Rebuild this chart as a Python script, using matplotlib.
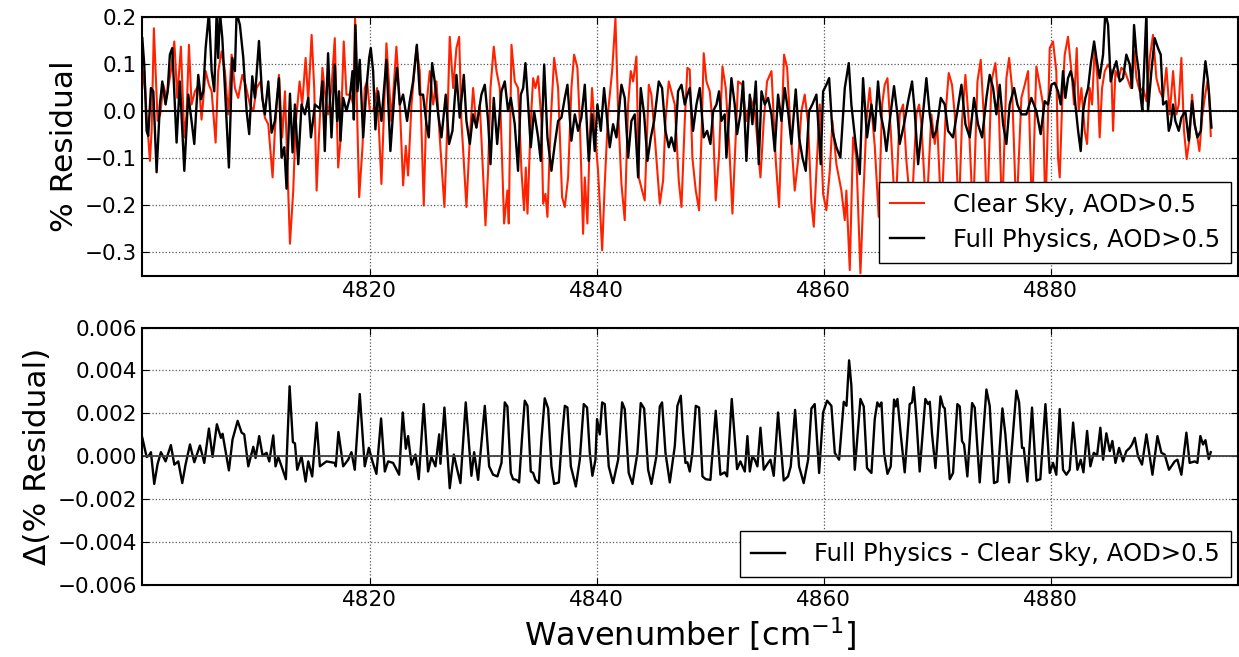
import numpy as np
import matplotlib
matplotlib.use('Agg')
import matplotlib.pyplot as plt

# Residual spectra (wavenumber, % residual)
clear_sky = [
    (4799.95, 0.049), (4800.12, 0.085), (4800.33, -0.007), (4800.62, -0.106), (4800.77, -0.042),
    (4800.97, 0.176), (4801.12, 0.085), (4801.30, -0.021), (4801.53, -0.007), (4801.80, 0.056),
    (4802.09, 0.028), (4802.47, 0.085), (4802.77, 0.148), (4803.03, 0.028), (4803.35, 0.137),
    (4803.65, -0.056), (4803.85, -0.007), (4804.06, 0.141), (4804.29, 0.014), (4804.59, 0.042),
    (4804.94, 0.056), (4805.17, -0.018), (4805.53, 0.085), (4805.82, 0.056), (4806.06, 0.042),
    (4806.41, -0.067), (4806.64, 0.085), (4806.94, 0.127), (4807.23, 0.085), (4807.52, -0.007),
    (4807.82, 0.120), (4808.11, 0.049), (4808.40, 0.028), (4808.76, 0.077), (4809.05, 0.056),
    (4809.43, 0.014), (4809.73, 0.000), (4810.02, 0.049), (4810.37, 0.063), (4810.75, -0.014),
    (4811.05, -0.028), (4811.43, -0.141), (4811.63, -0.042), (4811.99, 0.077), (4812.28, -0.056),
    (4812.52, 0.042), (4812.96, -0.282), (4813.25, -0.169), (4813.46, -0.028), (4813.81, 0.063),
    (4814.04, 0.014), (4814.34, 0.113), (4814.57, 0.021), (4814.87, 0.162), (4815.10, 0.049),
    (4815.31, -0.169), (4815.51, -0.056), (4815.82, 0.092), (4816.03, 0.042), (4816.32, -0.007),
    (4816.62, 0.049), (4816.91, 0.155), (4817.21, -0.120), (4817.41, -0.063), (4817.70, 0.148),
    (4817.94, 0.035), (4818.29, 0.035), (4818.53, 0.014), (4818.70, 0.197), (4818.88, -0.007),
    (4819.06, -0.183), (4819.35, -0.077), (4819.55, 0.049), (4819.76, 0.063), (4820.00, 0.000),
    (4820.29, 0.000), (4820.64, 0.049), (4821.02, -0.155), (4821.46, 0.144), (4821.90, -0.021),
    (4822.34, 0.137), (4822.64, 0.014), (4822.93, -0.158), (4823.17, -0.074), (4823.37, -0.137),
    (4823.67, 0.014), (4824.11, 0.137), (4824.40, 0.085), (4824.75, -0.201), (4824.99, 0.014),
    (4825.28, 0.085), (4825.58, 0.014), (4825.87, 0.063), (4826.16, -0.056), (4826.57, -0.204),
    (4826.81, -0.042), (4827.04, 0.158), (4827.34, 0.049), (4827.63, 0.134), (4827.87, 0.158),
    (4828.07, -0.021), (4828.51, -0.204), (4828.81, -0.056), (4829.10, 0.049), (4829.39, -0.035),
    (4829.69, 0.014), (4830.19, -0.243), (4830.42, -0.127), (4830.63, 0.049), (4830.92, 0.137),
    (4831.16, 0.085), (4831.45, 0.049), (4831.83, -0.239), (4832.12, -0.169), (4832.24, -0.239),
    (4832.48, 0.141), (4832.77, 0.063), (4833.06, 0.049), (4833.36, -0.127), (4833.59, -0.211),
    (4833.74, -0.120), (4833.89, -0.218), (4834.18, -0.021), (4834.39, 0.070), (4834.59, 0.049),
    (4834.83, 0.074), (4835.12, -0.021), (4835.27, -0.197), (4835.47, -0.176), (4835.65, -0.225),
    (4835.94, -0.021), (4836.24, 0.113), (4836.59, 0.049), (4836.94, -0.183), (4837.18, -0.204),
    (4837.47, -0.141), (4837.76, 0.049), (4838.00, 0.120), (4838.29, 0.092), (4838.50, -0.021),
    (4838.79, -0.261), (4838.94, -0.141), (4839.17, -0.239), (4839.38, -0.056), (4839.58, 0.049),
    (4839.82, -0.042), (4840.11, -0.127), (4840.47, -0.296), (4840.70, -0.155), (4841.00, 0.000),
    (4841.35, 0.085), (4841.64, 0.197), (4841.88, 0.000), (4842.17, -0.155), (4842.46, -0.232),
    (4842.76, 0.014), (4842.99, 0.085), (4843.20, 0.063), (4843.49, 0.116), (4843.70, -0.141),
    (4843.99, -0.169), (4844.22, -0.190), (4844.58, 0.056), (4844.81, 0.035), (4845.11, -0.056),
    (4845.55, -0.197), (4845.84, -0.148), (4846.05, -0.021), (4846.34, 0.063), (4846.57, 0.042),
    (4846.87, 0.014), (4847.22, -0.148), (4847.46, -0.204), (4847.75, -0.021), (4847.98, 0.092),
    (4848.19, 0.088), (4848.42, -0.099), (4848.72, -0.169), (4849.01, -0.211), (4849.22, -0.056),
    (4849.42, 0.123), (4849.66, 0.063), (4849.95, 0.042), (4850.25, -0.035), (4850.48, -0.190),
    (4850.77, -0.092), (4851.07, 0.095), (4851.36, 0.049), (4851.66, -0.070), (4851.95, -0.218),
    (4852.24, -0.056), (4852.45, 0.063), (4852.83, 0.056), (4853.18, -0.021), (4853.54, 0.028),
    (4853.92, 0.000), (4854.42, -0.141), (4854.71, -0.021), (4855.00, 0.063), (4855.39, 0.085),
    (4855.77, -0.106), (4856.06, -0.204), (4856.30, -0.021), (4856.50, 0.120), (4856.77, 0.092),
    (4857.06, -0.035), (4857.44, -0.169), (4857.73, -0.106), (4858.03, 0.000), (4858.32, 0.035),
    (4858.62, -0.028), (4858.91, -0.197), (4859.12, -0.246), (4859.35, -0.127), (4859.65, 0.014),
    (4859.94, -0.176), (4860.23, -0.211), (4860.53, -0.127), (4860.76, -0.021), (4861.11, -0.113),
    (4861.55, -0.169), (4861.85, -0.232), (4861.99, -0.169), (4862.29, -0.338), (4862.58, -0.056),
    (4862.87, -0.099), (4863.23, -0.345), (4863.46, -0.197), (4863.76, -0.021), (4864.05, 0.049),
    (4864.49, -0.074), (4864.84, -0.225), (4865.14, 0.014), (4865.37, 0.056), (4865.61, 0.070),
    (4865.90, -0.042), (4866.31, -0.225), (4866.69, -0.007), (4866.99, 0.014), (4867.28, -0.106),
    (4867.72, -0.225), (4868.16, -0.007), (4868.40, 0.014), (4868.60, -0.028), (4869.04, -0.225),
    (4869.48, -0.007), (4869.78, -0.070), (4869.98, -0.021), (4870.36, -0.225), (4870.75, 0.000),
    (4871.01, 0.081), (4871.30, 0.056), (4871.54, -0.007), (4871.89, -0.225), (4872.18, -0.021),
    (4872.48, 0.077), (4872.77, -0.021), (4873.15, -0.225), (4873.54, 0.063), (4873.83, 0.109),
    (4874.12, -0.021), (4874.39, -0.225), (4874.77, 0.063), (4875.12, 0.102), (4875.41, 0.014),
    (4875.71, -0.225), (4876.09, 0.070), (4876.33, 0.113), (4876.59, 0.049), (4876.97, -0.225),
    (4877.41, 0.028), (4877.71, 0.056), (4878.00, 0.085), (4878.35, -0.225), (4878.73, 0.095),
    (4879.03, 0.056), (4879.32, 0.014), (4879.53, -0.225), (4879.91, 0.134), (4880.20, 0.148),
    (4880.49, 0.085), (4880.64, -0.099), (4880.79, -0.141), (4881.00, 0.014), (4881.23, 0.120),
    (4881.52, 0.158), (4881.82, 0.085), (4882.05, 0.014), (4882.29, 0.134), (4882.46, 0.000),
    (4882.70, 0.049), (4882.99, -0.042), (4883.20, -0.070), (4883.43, 0.049), (4883.64, 0.014),
    (4883.87, 0.134), (4884.11, 0.070), (4884.31, -0.056), (4884.52, 0.049), (4884.76, 0.085),
    (4885.05, 0.099), (4885.34, 0.085), (4885.49, -0.042), (4885.70, 0.085), (4885.99, 0.070),
    (4886.22, 0.092), (4886.52, 0.085), (4886.75, 0.070), (4887.05, 0.049), (4887.34, 0.127),
    (4887.55, 0.070), (4887.84, 0.042), (4888.13, 0.049), (4888.43, 0.021), (4888.72, 0.113),
    (4889.01, 0.162), (4889.31, 0.070), (4889.60, 0.042), (4889.90, 0.028), (4890.19, 0.092),
    (4890.48, -0.007), (4890.78, 0.085), (4891.07, -0.007), (4891.28, 0.014), (4891.51, 0.113),
    (4891.74, -0.042), (4891.98, -0.102), (4892.24, -0.056), (4892.45, 0.035), (4892.68, -0.028),
    (4892.92, -0.056), (4893.10, -0.085), (4893.33, -0.014), (4893.57, 0.028), (4893.80, 0.063),
    (4893.95, 0.042), (4894.10, -0.053),
]

full_physics = [
    (4799.95, 0.155), (4800.12, 0.099), (4800.33, -0.042), (4800.47, -0.053), (4800.71, 0.049),
    (4800.92, 0.042), (4801.21, -0.130), (4801.50, 0.014), (4801.71, 0.063), (4802.00, 0.014),
    (4802.18, 0.042), (4802.38, 0.120), (4802.59, 0.134), (4802.97, -0.067), (4803.26, 0.063),
    (4803.65, -0.127), (4804.00, 0.035), (4804.29, -0.021), (4804.53, -0.070), (4804.88, 0.077),
    (4805.12, 0.025), (4805.32, 0.042), (4805.53, 0.134), (4805.82, 0.210), (4806.06, 0.085),
    (4806.29, 0.042), (4806.50, 0.210), (4806.64, 0.113), (4806.79, 0.210), (4807.00, 0.155),
    (4807.23, 0.049), (4807.58, -0.120), (4807.88, 0.113), (4808.11, 0.085), (4808.26, 0.210),
    (4808.55, 0.183), (4808.85, 0.113), (4809.14, 0.000), (4809.37, -0.049), (4809.64, 0.074),
    (4809.87, 0.028), (4810.23, 0.149), (4810.52, 0.028), (4810.75, -0.007), (4811.05, 0.063),
    (4811.34, -0.046), (4811.63, -0.021), (4811.99, 0.070), (4812.22, -0.099), (4812.46, -0.077),
    (4812.66, -0.165), (4812.96, 0.037), (4813.19, -0.088), (4813.40, 0.014), (4813.69, -0.113),
    (4813.98, 0.014), (4814.28, -0.007), (4814.57, 0.028), (4814.81, -0.056), (4815.16, 0.014),
    (4815.59, 0.005), (4815.82, 0.063), (4816.03, -0.085), (4816.32, 0.123), (4816.62, -0.056),
    (4816.91, 0.099), (4817.12, -0.021), (4817.29, 0.042), (4817.41, -0.063), (4817.65, 0.028),
    (4817.94, 0.000), (4818.23, 0.028), (4818.47, 0.085), (4818.59, -0.018), (4818.73, 0.183),
    (4818.91, 0.042), (4819.11, 0.109), (4819.41, -0.056), (4819.70, 0.049), (4819.94, 0.113),
    (4820.08, 0.134), (4820.29, 0.085), (4820.49, -0.039), (4820.73, 0.042), (4821.02, -0.021),
    (4821.46, 0.109), (4821.81, -0.085), (4822.20, 0.049), (4822.40, 0.092), (4822.64, 0.014),
    (4822.93, 0.035), (4823.28, -0.021), (4823.52, 0.021), (4823.81, 0.063), (4824.14, 0.141),
    (4824.40, 0.035), (4824.69, 0.035), (4824.99, -0.028), (4825.19, -0.056), (4825.49, 0.102),
    (4825.72, 0.063), (4826.02, -0.007), (4826.31, -0.056), (4826.69, 0.035), (4826.98, -0.070),
    (4827.28, -0.042), (4827.63, 0.077), (4827.92, -0.014), (4828.28, 0.077), (4828.51, -0.021),
    (4828.81, -0.070), (4829.10, -0.007), (4829.39, -0.035), (4829.83, 0.035), (4830.13, 0.056),
    (4830.42, -0.021), (4830.63, -0.113), (4830.92, 0.028), (4831.22, -0.070), (4831.60, 0.042),
    (4831.89, 0.063), (4832.18, 0.000), (4832.42, 0.028), (4832.77, -0.028), (4833.06, -0.127),
    (4833.30, 0.035), (4833.51, 0.049), (4833.71, 0.102), (4833.95, 0.014), (4834.18, -0.077),
    (4834.47, 0.000), (4834.83, -0.056), (4835.06, -0.106), (4835.36, 0.099), (4835.65, -0.056),
    (4836.00, -0.127), (4836.30, -0.070), (4836.59, -0.021), (4836.88, -0.014), (4837.18, 0.028),
    (4837.41, 0.056), (4837.76, -0.063), (4838.06, -0.007), (4838.35, -0.042), (4838.64, -0.014),
    (4838.94, 0.056), (4839.29, -0.106), (4839.58, -0.007), (4839.82, -0.085), (4840.05, 0.014),
    (4840.35, -0.042), (4840.64, 0.049), (4840.94, -0.028), (4841.14, -0.077), (4841.43, -0.028),
    (4841.73, -0.056), (4842.17, 0.056), (4842.46, 0.028), (4842.76, -0.099), (4843.05, -0.021),
    (4843.34, -0.007), (4843.64, -0.141), (4843.87, 0.049), (4844.17, -0.007), (4844.46, -0.106),
    (4844.76, -0.056), (4845.05, -0.021), (4845.46, 0.063), (4845.75, 0.049), (4846.05, -0.042),
    (4846.34, -0.077), (4846.57, -0.056), (4846.87, -0.085), (4847.16, 0.042), (4847.46, 0.056),
    (4847.75, 0.014), (4847.98, 0.035), (4848.19, 0.049), (4848.48, -0.042), (4848.78, 0.014),
    (4849.07, 0.049), (4849.42, -0.056), (4849.72, -0.042), (4850.01, -0.070), (4850.25, 0.000),
    (4850.54, 0.014), (4850.77, 0.042), (4850.98, -0.021), (4851.27, -0.007), (4851.42, -0.099),
    (4851.86, 0.070), (4852.15, 0.014), (4852.36, -0.049), (4852.65, -0.007), (4852.89, 0.063),
    (4853.18, -0.106), (4853.48, 0.035), (4853.71, -0.028), (4854.01, 0.063), (4854.27, -0.113),
    (4854.51, 0.042), (4854.80, 0.014), (4855.09, 0.028), (4855.39, -0.007), (4855.68, -0.085),
    (4855.97, 0.035), (4856.27, -0.021), (4856.56, 0.049), (4856.85, 0.000), (4857.15, -0.070),
    (4857.53, 0.046), (4857.82, -0.056), (4858.12, -0.099), (4858.41, -0.127), (4858.70, 0.000),
    (4858.99, 0.014), (4859.35, 0.035), (4859.73, -0.113), (4859.94, 0.042), (4860.23, 0.056),
    (4860.47, 0.070), (4860.76, -0.042), (4861.11, -0.077), (4861.46, -0.099), (4861.85, 0.049),
    (4862.20, 0.102), (4862.43, 0.014), (4862.81, -0.070), (4863.17, -0.134), (4863.46, 0.070),
    (4863.81, -0.056), (4864.20, 0.014), (4864.49, -0.042), (4864.78, 0.063), (4865.02, -0.007),
    (4865.31, -0.042), (4865.52, -0.085), (4865.81, -0.021), (4866.19, 0.053), (4866.49, -0.007),
    (4866.69, -0.070), (4867.07, -0.028), (4867.43, 0.021), (4867.78, 0.063), (4868.01, 0.000),
    (4868.31, -0.113), (4868.60, -0.042), (4869.04, 0.070), (4869.34, -0.007), (4869.63, -0.056),
    (4869.92, -0.042), (4870.31, 0.028), (4870.66, 0.014), (4870.95, -0.042), (4871.39, -0.056),
    (4871.77, 0.000), (4872.13, 0.056), (4872.48, -0.028), (4872.86, -0.056), (4873.24, 0.028),
    (4873.59, -0.028), (4873.95, -0.056), (4874.33, 0.028), (4874.62, 0.077), (4874.92, 0.049),
    (4875.21, -0.007), (4875.50, 0.056), (4875.80, -0.028), (4876.09, -0.070), (4876.38, 0.014),
    (4876.77, 0.049), (4877.06, 0.014), (4877.41, -0.007), (4877.85, -0.007), (4878.29, 0.028),
    (4878.73, 0.000), (4879.11, -0.049), (4879.47, 0.021), (4879.76, 0.014), (4880.06, 0.056),
    (4880.35, 0.060), (4880.64, 0.042), (4880.88, 0.014), (4881.08, 0.085), (4881.29, 0.028),
    (4881.52, 0.070), (4881.76, 0.085), (4881.97, 0.063), (4882.17, 0.014), (4882.41, -0.042),
    (4882.64, -0.085), (4882.85, 0.000), (4883.05, 0.028), (4883.29, 0.049), (4883.52, 0.099),
    (4883.82, 0.148), (4884.02, 0.113), (4884.31, 0.070), (4884.61, 0.120), (4884.81, 0.210),
    (4885.05, 0.183), (4885.28, 0.063), (4885.49, 0.085), (4885.78, 0.106), (4886.08, 0.063),
    (4886.37, 0.070), (4886.66, 0.120), (4886.96, 0.099), (4887.16, 0.049), (4887.34, 0.183),
    (4887.55, 0.120), (4887.75, 0.085), (4887.93, 0.028), (4888.07, 0.000), (4888.28, 0.120),
    (4888.43, 0.210), (4888.57, 0.000), (4888.87, 0.085), (4889.16, 0.155), (4889.45, 0.134),
    (4889.69, 0.120), (4889.90, 0.014), (4890.19, 0.021), (4890.40, -0.042), (4890.57, -0.028),
    (4890.78, 0.014), (4890.98, -0.021), (4891.28, -0.042), (4891.51, -0.014), (4891.86, 0.000),
    (4892.16, -0.063), (4892.45, 0.021), (4892.68, -0.028), (4892.92, -0.056), (4893.22, -0.042),
    (4893.42, 0.049), (4893.63, 0.106), (4893.86, 0.063), (4894.10, -0.014), (4894.16, -0.035),
]

# Full Physics minus Clear Sky, in units of 1e-3 (% residual)
delta_milli = [
    (4799.95, 0.86), (4800.33, -0.03), (4800.53, 0.03), (4800.71, 0.19), (4801.00, -1.29),
    (4801.30, -0.35), (4801.59, 0.19), (4802.00, -0.24), (4802.47, 0.52), (4802.77, -0.39),
    (4803.12, -0.24), (4803.47, -1.25), (4803.76, -0.39), (4804.15, 0.55), (4804.53, -0.28),
    (4805.03, 0.50), (4805.41, -0.31), (4805.82, 1.29), (4806.14, -0.03), (4806.52, 1.49),
    (4806.88, 0.86), (4807.02, 1.05), (4807.58, -0.66), (4807.90, 0.78), (4808.35, 1.65),
    (4808.70, 1.10), (4808.93, 1.02), (4809.29, -0.47), (4809.73, 0.44), (4809.93, -0.08),
    (4810.25, 0.94), (4810.55, 0.03), (4810.90, 0.16), (4811.14, -0.24), (4811.49, 0.97),
    (4811.69, -0.47), (4811.93, -0.03), (4812.22, -0.47), (4812.60, -1.07), (4812.93, 3.26),
    (4813.22, 0.66), (4813.40, 0.60), (4813.60, -0.63), (4813.98, 0.00), (4814.34, -1.18),
    (4814.57, -0.24), (4814.92, -0.94), (4815.31, 1.57), (4815.60, -0.47), (4816.18, -0.24),
    (4816.91, -0.31), (4817.00, -0.47), (4817.23, 1.13), (4817.65, -0.47), (4818.09, -0.16),
    (4818.38, 0.19), (4818.67, -0.63), (4819.11, 2.90), (4819.55, -0.47), (4819.91, 0.39),
    (4820.23, -0.24), (4820.58, -0.82), (4820.99, 1.76), (4821.32, -0.71), (4821.61, -0.24),
    (4822.05, -0.31), (4822.58, -0.86), (4822.90, 2.04), (4823.17, 0.35), (4823.37, 0.94),
    (4823.67, -0.39), (4824.02, 0.08), (4824.31, -1.07), (4824.75, 2.43), (4825.13, -0.71),
    (4825.43, -0.03), (4825.78, -0.47), (4826.11, 1.02), (4826.22, -0.35), (4826.57, 2.27),
    (4827.04, -1.49), (4827.40, 0.08), (4827.63, -0.47), (4827.98, -1.25), (4828.45, 2.51),
    (4828.95, -0.91), (4829.19, 0.19), (4829.54, -1.10), (4830.13, 2.35), (4830.51, -0.47),
    (4830.86, -0.86), (4831.24, -0.94), (4831.60, -0.31), (4831.89, 2.51), (4832.12, 2.32),
    (4832.42, -0.78), (4832.62, -1.07), (4832.92, -1.10), (4833.15, -1.22), (4833.42, 0.94),
    (4833.65, 2.59), (4833.89, 2.35), (4834.18, -0.71), (4834.39, -0.78), (4834.59, -1.10),
    (4834.89, -1.25), (4835.12, 0.78), (4835.41, 2.70), (4835.71, 2.23), (4836.00, -0.47),
    (4836.24, -1.29), (4836.65, -1.22), (4836.94, 0.94), (4837.18, 2.35), (4837.41, 2.27),
    (4837.71, -0.47), (4838.15, -1.41), (4838.50, -0.16), (4838.85, 2.43), (4839.14, 2.27),
    (4839.38, 0.16), (4839.61, -0.91), (4839.88, -0.16), (4840.02, 1.73), (4840.26, 1.02),
    (4840.47, 2.51), (4840.70, 2.43), (4841.05, -0.47), (4841.43, -1.25), (4841.88, -0.16),
    (4842.23, 2.51), (4842.46, 2.20), (4842.81, -0.78), (4843.14, -1.29), (4843.58, 0.16),
    (4843.87, 2.48), (4844.17, 2.23), (4844.52, -0.63), (4844.81, -1.29), (4845.25, 0.00),
    (4845.55, 2.32), (4845.75, 2.51), (4846.05, 0.16), (4846.43, -1.22), (4846.87, 0.47),
    (4847.10, 2.35), (4847.40, 2.82), (4847.60, 1.10), (4847.81, -0.31), (4847.98, -0.28),
    (4848.19, -0.71), (4848.42, 0.16), (4848.72, 2.35), (4849.01, 2.27), (4849.31, -0.94),
    (4849.60, -1.07), (4850.01, -1.10), (4850.48, 2.12), (4850.89, -0.86), (4851.27, -0.75),
    (4851.48, -0.94), (4851.89, 2.67), (4852.36, -0.60), (4852.65, -0.24), (4853.04, -0.71),
    (4853.27, 0.94), (4853.48, -0.71), (4853.71, 0.00), (4853.92, -0.16), (4854.15, -0.47),
    (4854.42, 1.33), (4854.71, -0.63), (4855.09, -0.31), (4855.30, -0.16), (4855.59, -0.91),
    (4855.97, 2.04), (4856.47, -1.13), (4856.85, -0.94), (4857.09, -0.47), (4857.47, 2.16),
    (4857.82, -0.47), (4858.23, -1.25), (4858.62, -0.16), (4858.91, 2.23), (4859.20, 2.43),
    (4859.59, -0.78), (4859.94, 2.04), (4860.29, 2.59), (4860.67, 2.35), (4860.97, 0.16),
    (4861.35, -0.16), (4861.76, 2.54), (4862.00, 2.35), (4862.23, 4.47), (4862.43, 3.29),
    (4862.73, -0.63), (4863.23, 2.67), (4863.52, 2.32), (4863.81, -0.55), (4864.20, -0.78),
    (4864.49, 1.73), (4864.72, 2.51), (4864.90, 2.32), (4865.08, 2.51), (4865.31, 0.16),
    (4865.61, -0.82), (4865.90, -0.47), (4866.19, 2.64), (4866.34, 2.32), (4866.49, 2.67),
    (4866.78, 1.02), (4867.13, -0.75), (4867.57, 2.43), (4867.78, 2.51), (4867.93, 3.22),
    (4868.16, 1.73), (4868.45, -0.71), (4868.95, 2.67), (4869.19, 2.43), (4869.34, 2.54),
    (4869.54, 1.02), (4869.84, -0.55), (4870.28, 2.79), (4870.51, 2.32), (4870.66, 2.23),
    (4871.10, -1.07), (4871.39, -0.78), (4871.77, 2.43), (4871.98, 2.32), (4872.18, 0.71),
    (4872.36, 0.55), (4872.65, -0.94), (4873.07, 2.48), (4873.30, 2.27), (4873.74, -1.22),
    (4874.33, 3.11), (4874.62, 2.35), (4875.00, -1.25), (4875.30, -1.18), (4875.74, 2.23),
    (4876.00, 1.02), (4876.33, -1.22), (4876.97, 3.06), (4877.21, 2.51), (4877.47, 0.39),
    (4877.62, 0.39), (4877.94, -1.18), (4878.35, 2.27), (4878.73, -1.13), (4879.08, -1.07),
    (4879.53, 2.43), (4879.91, -0.78), (4880.20, -0.31), (4880.49, -0.86), (4880.79, 2.20),
    (4881.08, -0.63), (4881.38, -0.86), (4881.67, -0.63), (4881.97, 1.57), (4882.35, -0.63),
    (4882.64, -0.16), (4882.88, -0.75), (4883.20, 1.18), (4883.49, -0.47), (4883.79, 0.16),
    (4884.08, 0.03), (4884.37, 1.33), (4884.61, -0.16), (4884.90, 1.07), (4885.20, 0.24),
    (4885.43, 0.71), (4885.70, -0.31), (4886.02, 0.39), (4886.37, -0.24), (4886.66, 0.24),
    (4886.96, 0.39), (4887.16, 0.55), (4887.40, 0.86), (4887.69, 0.00), (4888.04, -0.39),
    (4888.43, 1.02), (4888.96, -0.86), (4889.40, 0.94), (4889.75, 0.16), (4890.04, 0.08),
    (4890.42, -0.63), (4890.92, -0.24), (4891.16, -0.16), (4891.51, -0.86), (4891.95, 1.10),
    (4892.24, -0.31), (4892.68, -0.24), (4892.92, -0.31), (4893.18, 0.94), (4893.42, 0.55),
    (4893.63, 0.75), (4893.92, -0.13), (4894.10, 0.19),
]

x_ticks = [4820, 4840, 4860, 4880]
top_yticks = [-0.3, -0.2, -0.1, 0.0, 0.1, 0.2]
bot_yticks = [-0.006, -0.004, -0.002, 0.000, 0.002, 0.004, 0.006]

plt.rcParams['font.family'] = 'DejaVu Sans'

def style_axes(ax):
    for s in ax.spines.values():
        s.set_linewidth(1.5)
    ax.grid(True, linestyle=':', color='0.35', linewidth=0.9)
    ax.tick_params(direction='in', top=True, right=True, length=5, labelsize=15.5)
    ax.set_xticks(x_ticks)
    ax.set_xlim(4799.9, 4896.5)

fig = plt.figure(figsize=(12.39, 6.57), dpi=100)
ax1 = fig.add_axes([0.1144, 0.5804, 0.8848, 0.3937])
ax2 = fig.add_axes([0.1144, 0.1096, 0.8848, 0.3919])

cs = np.array(clear_sky)
fp = np.array(full_physics)
dd = np.array(delta_milli)

# top panel: both residuals
ax1.plot(cs[:, 0], cs[:, 1], color='#ff2200', lw=1.5, solid_joinstyle='round',
         label='Clear Sky, AOD>0.5')
ax1.plot(fp[:, 0], fp[:, 1], color='black', lw=1.7, solid_joinstyle='round',
         label='Full Physics, AOD>0.5')
ax1.axhline(0, color='black', lw=1.3)
ax1.set_ylim(-0.35, 0.2)
ax1.set_yticks(top_yticks)
ax1.set_yticklabels(['\u22120.3', '\u22120.2', '\u22120.1', '0.0', '0.1', '0.2'])
ax1.set_ylabel('% Residual', fontsize=22.5)
style_axes(ax1)
leg1 = ax1.legend(loc='lower right', bbox_to_anchor=(0.9936, 0.05), borderaxespad=0,
                  fontsize=17.5, fancybox=False, framealpha=1, edgecolor='black',
                  handlelength=1.4, handletextpad=1.2, labelspacing=0.45, borderpad=0.45)
leg1.get_frame().set_linewidth(1.0)

# bottom panel: difference
ax2.plot(dd[:, 0], dd[:, 1] * 1e-3, color='black', lw=1.7, solid_joinstyle='round',
         label='Full Physics - Clear Sky, AOD>0.5')
ax2.axhline(0, color='0.25', lw=1.3)
ax2.set_ylim(-0.006, 0.006)
ax2.set_yticks(bot_yticks)
ax2.set_yticklabels([('%.3f' % v).replace('-', '\u2212') if v != 0 else '0.000' for v in bot_yticks])
ax2.set_ylabel('\u0394(% Residual)', fontsize=22.5)
ax2.set_xlabel('Wavenumber [cm$^{-1}$]', fontsize=23)
style_axes(ax2)
leg2 = ax2.legend(loc='lower right', bbox_to_anchor=(0.9936, 0.031), borderaxespad=0,
                  fontsize=17.5, fancybox=False, framealpha=1, edgecolor='black',
                  handlelength=1.4, handletextpad=1.2, borderpad=0.45)
leg2.get_frame().set_linewidth(1.0)

fig.savefig('out.png', dpi=100)
